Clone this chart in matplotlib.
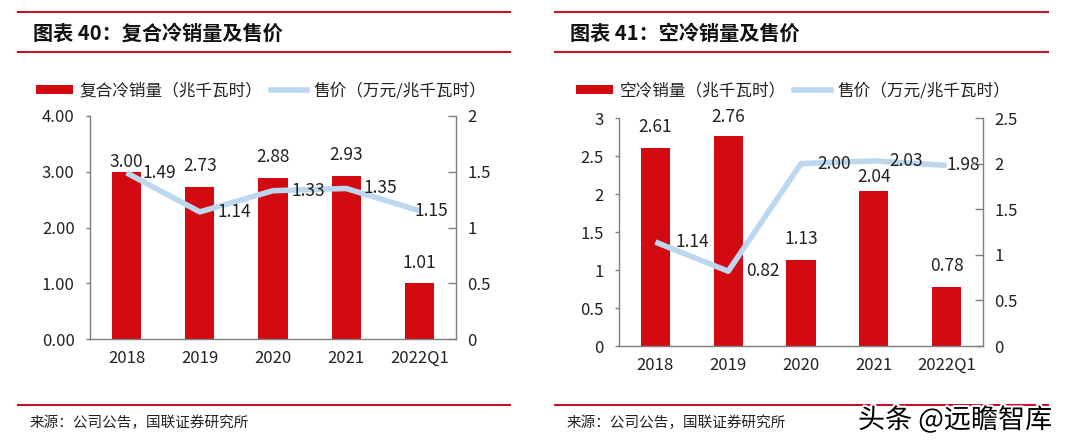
import matplotlib.pyplot as plt
import matplotlib.patheffects as pe
from matplotlib.lines import Line2D
from matplotlib.patches import Patch
import numpy as np

plt.rcParams['font.family'] = ['Noto Sans CJK SC', 'DejaVu Sans']

categories = ["2018", "2019", "2020", "2021", "2022Q1"]

# 图表40 复合冷
hybrid_volume = [3.00, 2.73, 2.88, 2.93, 1.01]
hybrid_price = [1.49, 1.14, 1.33, 1.35, 1.15]

# 图表41 空冷
air_volume = [2.61, 2.76, 1.13, 2.04, 0.78]
air_price = [1.14, 0.82, 2.00, 2.03, 1.98]

RED = "#D20A11"
BLUE = "#BDD7EE"
GREY = "#7F7F7F"
RULE = "#C8102E"

W, H = 1080, 444


def fx(px):
    return px / W


def fy(py):
    return 1 - py / H


def draw_panel(fig, box, volume, price, lim1, step1, fmt1, lim2, step2,
               bar_dy, line_dx):
    left, top, right, bottom = box
    ax = fig.add_axes([fx(left), fy(bottom), fx(right - left), (bottom - top) / H])
    x = np.arange(len(categories))

    ax.bar(x, volume, width=0.4, color=RED, zorder=2)
    ax.set_xlim(-0.5, len(categories) - 0.5)
    ax.set_ylim(0, lim1)
    t1 = np.arange(0, lim1 + 1e-9, step1)
    ax.set_yticks(t1)
    ax.set_yticklabels([fmt1.format(v) for v in t1])
    ax.set_xticks(x)
    ax.set_xticklabels(categories)

    ax2 = ax.twinx()
    ax2.plot(x, price, color=BLUE, lw=4, solid_capstyle="butt", zorder=3)
    ax2.set_ylim(0, lim2)
    t2 = np.arange(0, lim2 + 1e-9, step2)
    ax2.set_yticks(t2)
    ax2.set_yticklabels(["{:g}".format(v) for v in t2])

    for a in (ax, ax2):
        a.spines["top"].set_visible(False)
        for s in ("left", "right", "bottom"):
            a.spines[s].set_color(GREY)
            a.spines[s].set_linewidth(1.0)
    ax.spines["right"].set_visible(False)
    ax2.spines["left"].set_visible(False)
    ax2.spines["bottom"].set_visible(False)

    ax.tick_params(axis="y", direction="out", length=3, width=1, color=GREY,
                   pad=8, labelsize=12, labelcolor="#222222")
    ax.tick_params(axis="x", length=0, pad=8, labelsize=12, labelcolor="#222222")
    ax2.tick_params(axis="y", direction="in", length=6, width=1, color=GREY,
                    pad=8, labelsize=12, labelcolor="#222222")

    for i, v in enumerate(volume):
        ax.annotate(f"{v:.2f}", (i, v), xytext=(0, bar_dy[i]),
                    textcoords="offset pixels", ha="center", va="center",
                    fontsize=12.5, color="#222222")
    for i, v in enumerate(price):
        ax2.annotate(f"{v:.2f}", (i, v), xytext=(line_dx[i], 0),
                     textcoords="offset pixels", ha="left", va="center",
                     fontsize=12.5, color="#222222", zorder=5)
    return ax, ax2


fig = plt.figure(figsize=(W / 100, H / 100), dpi=100)

# left panel
draw_panel(fig, (90, 116, 456, 339), hybrid_volume, hybrid_price,
           4, 1, "{:.2f}", 2, 0.5,
           bar_dy=[10, 21, 21, 21, 20], line_dx=[16, 18, 18, 17, -5])

# right panel
draw_panel(fig, (619, 118, 983, 346), air_volume, air_price,
           3, 0.5, "{:g}", 2.5, 0.5,
           bar_dy=[21, 19, 21, 14, 21], line_dx=[20, 18, 16, 16, 0])

# titles, rules, legends, footers
panels = [
    (18, 510, 33, "图表 40：复合冷销量及售价", "复合冷销量（兆千瓦时）", 36),
    (555, 1048, 570, "图表 41：空冷销量及售价", "空冷销量（兆千瓦时）", 576),
]
for x0, x1, tx, title, bar_name, lx in panels:
    for yy in (12, 52, 405):
        fig.add_artist(Line2D([fx(x0), fx(x1)], [fy(yy), fy(yy)],
                              color=RULE, lw=1.5))
    fig.text(fx(tx), fy(33), title, fontsize=14.5, fontweight="bold",
             va="center", ha="left", color="#111111")
    fig.text(fx(tx - 3), fy(423), "来源：公司公告，国联证券研究所",
             fontsize=10.5, va="center", ha="left", color="#222222")
    handles = [Patch(facecolor=RED, edgecolor="none", label=bar_name),
               Line2D([], [], color=BLUE, lw=4, label="售价（万元/兆千瓦时）")]
    fig.legend(handles=handles, loc="center left",
               bbox_to_anchor=(fx(lx), fy(91)), ncol=2, frameon=False,
               fontsize=12, handlelength=2.2, handleheight=0.5,
               handletextpad=0.4, columnspacing=0.5, borderpad=0,
               borderaxespad=0, labelcolor="#222222")

fig.text(fx(858), fy(420), "头条 @远瞻智库", fontsize=19.5, color="black",
         va="center", ha="left",
         path_effects=[pe.withStroke(linewidth=3, foreground="white")])

fig.savefig("out.png", dpi=100)
